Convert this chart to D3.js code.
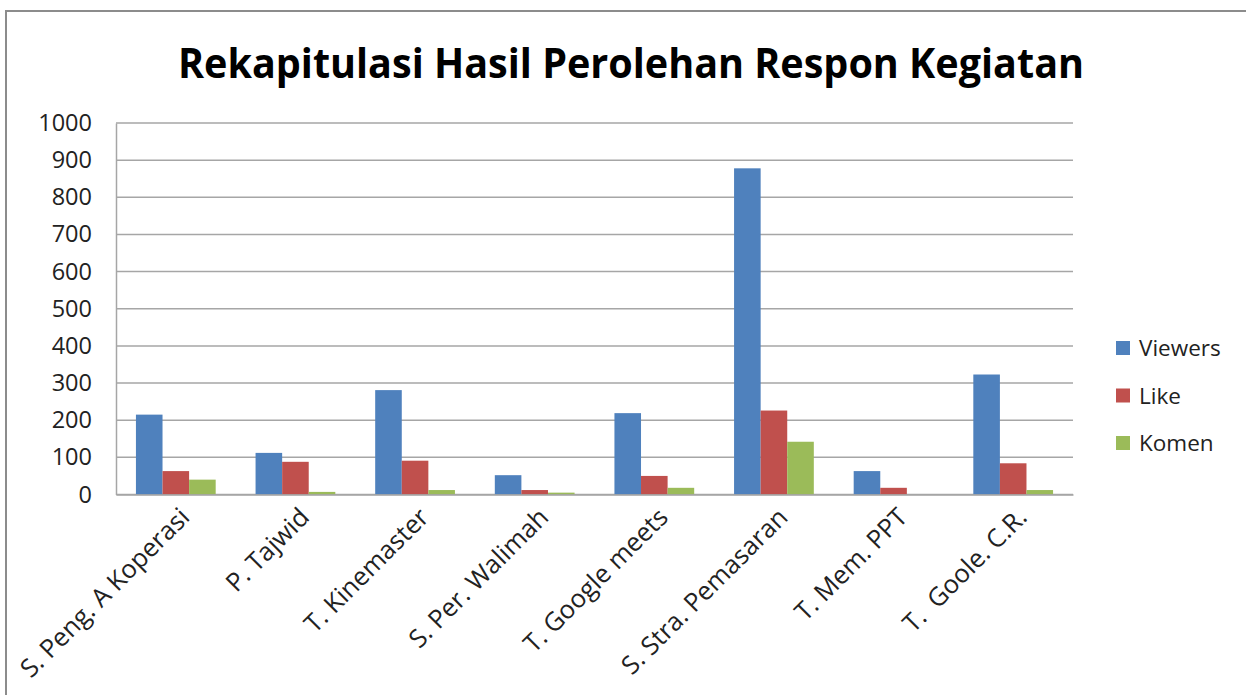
<!DOCTYPE html>
<html><head><meta charset="utf-8">
<script src="https://cdn.jsdelivr.net/npm/d3@7"></script>
<style>html,body{margin:0;padding:0;background:#fff;}svg{display:block;}text{white-space:pre;}</style>
</head><body>
<script>
const categories = ["S. Peng. A Koperasi","P. Tajwid","T. Kinemaster","S. Per. Walimah","T. Google meets","S. Stra. Pemasaran","T. Mem. PPT","T.  Goole. C.R."];
const seriesNames = ["Viewers","Like","Komen"];
const viewers = [215,112,281,52,219,878,63,323];
const like = [63,88,91,12,50,226,18,84];
const komen = [40,7,12,5,18,142,0,12];
const yTicks = [0,100,200,300,400,500,600,700,800,900,1000];
const colors = ["#4F81BD","#C0504D","#9BBB59"];
const title = "Rekapitulasi Hasil Perolehan Respon Kegiatan";

(function(){
const W = 1246, H = 695;
const svg = d3.select("body").append("svg").attr("width", W).attr("height", H);
const font = "'Open Sans', 'Noto Sans', sans-serif";

svg.append("rect").attr("x",6).attr("y",11).attr("width",W+10).attr("height",H+10)
  .attr("fill","none").attr("stroke","#8c8c8c").attr("stroke-width",2);

const pl = 116, pr = 1073, pt = 123, pb = 494.5;
const x = d3.scaleBand().domain(categories).range([pl, pr]).paddingInner(0).paddingOuter(0);
const y = d3.scaleLinear().domain([0,1000]).range([pb, pt]);
const bw = x.bandwidth() / 4.5;
const x1 = d3.scaleBand().domain(seriesNames).range([0.75*bw, 3.75*bw]);

svg.append("g").selectAll("line").data(yTicks).join("line")
  .attr("x1", pl).attr("x2", pr).attr("y1", d=>y(d)).attr("y2", d=>y(d))
  .attr("stroke","#a6a6a6").attr("stroke-width",1.5);

const yAxis = svg.append("g").attr("transform",`translate(${pl},0)`)
  .call(d3.axisLeft(y).tickValues(yTicks).tickSize(0).tickPadding(24).tickFormat(d3.format("d")));
yAxis.select(".domain").attr("stroke","#a6a6a6").attr("stroke-width",1.5);
yAxis.selectAll("text").attr("font-family",font).attr("font-size",23.5).attr("fill","#222");

const data = [viewers, like, komen];
const g = svg.append("g");
seriesNames.forEach((s,i)=>{
  g.append("g").selectAll("rect").data(categories).join("rect")
    .attr("x", c => x(c) + x1(s))
    .attr("y", (c,j) => y(data[i][j]))
    .attr("width", x1.bandwidth())
    .attr("height", (c,j) => pb - y(data[i][j]))
    .attr("fill", colors[i]);
});

const xAxis = svg.append("g").attr("transform",`translate(0,${pb})`)
  .call(d3.axisBottom(x).tickSize(0).tickPadding(0));
xAxis.select(".domain").attr("stroke","#a6a6a6").attr("stroke-width",1.5);
xAxis.selectAll("text")
  .attr("font-family",font).attr("font-size",25.5).attr("fill","#222")
  .attr("text-anchor","end").attr("dy","0.35em").attr("y",0)
  .attr("transform","translate(9,18) rotate(-45)");

svg.append("text").attr("x", 631).attr("y", 78).attr("text-anchor","middle")
  .attr("font-family",font).attr("font-weight","bold").attr("font-size",42)
  .attr("textLength",906).attr("lengthAdjust","spacingAndGlyphs")
  .attr("fill","#000").text(title);

const lg = svg.append("g");
seriesNames.forEach((s,i)=>{
  const cy = 348 + i*47.5;
  lg.append("rect").attr("x",1116).attr("y",cy-7).attr("width",14).attr("height",14).attr("fill",colors[i]);
  lg.append("text").attr("x",1139).attr("y",cy+8).attr("font-family",font).attr("font-size",22.5)
    .attr("fill","#222").text(s);
});
})();
</script>
</body></html>
